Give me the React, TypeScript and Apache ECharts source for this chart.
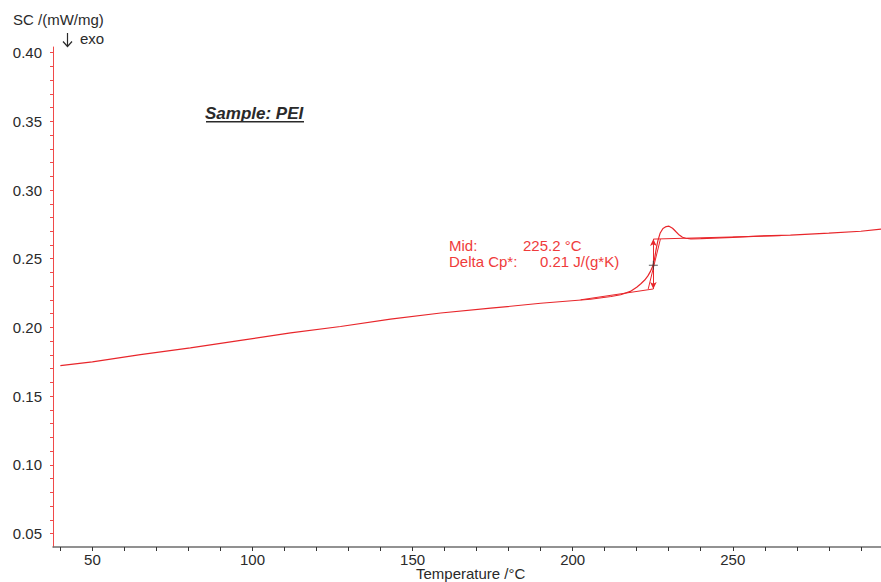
import React, { useEffect, useRef } from "react";
import * as echarts from "echarts";

// ---- data ----
const temps = [
  40, 50, 65, 80.6, 96.3, 111.9, 127.5, 143.1, 158.8, 174.4, 190, 205.6, 212, 215, 218,
  220, 221.3, 222.5, 223.5, 224.3, 225.0, 225.5, 226.0, 226.6, 227.3, 228.2, 229.2,
  230.1, 231.2, 232.2, 233.3, 234.3, 235.3, 236.9, 240, 250, 258, 268, 280, 290, 296.3,
];
const dsc = [
  0.1722, 0.175, 0.1802, 0.1851, 0.1906, 0.196, 0.2007, 0.206, 0.2105, 0.214, 0.2176,
  0.2205, 0.2225, 0.2238, 0.2262, 0.2293, 0.2318, 0.2345, 0.2375, 0.2408, 0.2445, 0.249,
  0.256, 0.263, 0.2685, 0.272, 0.2734, 0.2737, 0.2722, 0.2698, 0.2672, 0.2656, 0.2649,
  0.2645, 0.2646, 0.2656, 0.2665, 0.2672, 0.2686, 0.27, 0.2716,
];

const midTemp = 225.2;
const midValue = 0.2452;
const lowerBaseline = [
  [202.5, 0.2201],
  [225.2, 0.228],
];
const upperBaseline = [
  [225.2, 0.2643],
  [265, 0.2668],
];
const tangentLine = [
  [223.6, 0.228],
  [227.4, 0.2643],
];

const xLabelValues = [50, 100, 150, 200, 250];
const xTickValues = [40, 50, 60, 70, 80, 90, 100, 110, 120, 130, 140, 150, 160, 170, 180, 190, 200, 210, 220, 230, 240, 250, 260, 270, 280, 290];
const yLabelValues = [0.05, 0.1, 0.15, 0.2, 0.25, 0.3, 0.35, 0.4];
const yTickValues = [
  0.05, 0.06, 0.07, 0.08, 0.09, 0.1, 0.11, 0.12, 0.13, 0.14, 0.15, 0.16, 0.17, 0.18, 0.19,
  0.2, 0.21, 0.22, 0.23, 0.24, 0.25, 0.26, 0.27, 0.28, 0.29, 0.3, 0.31, 0.32, 0.33, 0.34,
  0.35, 0.36, 0.37, 0.38, 0.39, 0.4,
];

const FONT = "'Liberation Sans', Arial, sans-serif";
const RED = "#e8262b";
const TEXT_RED = "#ef3b3b";
const DARK = "#2a2a2a";

export default function App() {
  const ref = useRef<HTMLDivElement>(null);

  useEffect(() => {
    if (!ref.current) return;
    const chart = echarts.init(ref.current, undefined, { renderer: "svg" });
    const curve = temps.map((t, i) => [t, dsc[i]]);

    chart.setOption({
      animation: false,
      backgroundColor: "#ffffff",
      textStyle: { fontFamily: FONT },
      grid: { left: 53, right: 0, top: 47, bottom: 35, containLabel: false },
      xAxis: {
        type: "value",
        min: 37.7,
        max: 296.3,
        splitLine: { show: false },
        axisLine: { show: true, onZero: false, lineStyle: { color: "#6e6e6e", width: 1.5 } },
        axisTick: {
          show: true,
          customValues: xTickValues,
          length: 4,
          inside: false,
          lineStyle: { color: "#333333", width: 1 },
        },
        axisLabel: {
          customValues: xLabelValues,
          color: DARK,
          fontSize: 15,
          fontFamily: FONT,
          margin: 5,
        },
      },
      yAxis: {
        type: "value",
        min: 0.0402,
        max: 0.4041,
        splitLine: { show: false },
        axisLine: { show: true, onZero: false, lineStyle: { color: "#f04a4a", width: 1 } },
        axisTick: {
          show: true,
          customValues: yTickValues,
          length: 3,
          lineStyle: { color: "#f04a4a", width: 1 },
        },
        axisLabel: {
          customValues: yLabelValues,
          color: DARK,
          fontSize: 15,
          fontFamily: FONT,
          margin: 11,
          formatter: (v: number) => v.toFixed(2),
        },
      },
      series: [
        {
          type: "line",
          data: curve,
          showSymbol: false,
          lineStyle: { color: RED, width: 1.2 },
          z: 3,
        },
        {
          type: "line",
          data: lowerBaseline,
          showSymbol: false,
          lineStyle: { color: RED, width: 1 },
        },
        {
          type: "line",
          data: upperBaseline,
          showSymbol: false,
          lineStyle: { color: RED, width: 1 },
        },
        {
          type: "line",
          data: tangentLine,
          showSymbol: false,
          lineStyle: { color: RED, width: 1 },
          markLine: {
            silent: true,
            symbol: ["arrow", "arrow"],
            symbolSize: [5, 7],
            label: { show: false },
            lineStyle: { color: RED, width: 1, type: "solid" },
            data: [
              [
                { coord: [midTemp, lowerBaseline[1][1]] },
                { coord: [midTemp, upperBaseline[0][1]] },
              ],
            ],
          },
        },
        {
          type: "scatter",
          data: [[midTemp, midValue]],
          symbol: "path://M0 4.4h10v1.2H0zM4.4 0h1.2v10H4.4z",
          symbolSize: 9,
          itemStyle: { color: "#333333" },
          z: 5,
        },
      ],
      graphic: [
        {
          type: "text",
          left: 13,
          top: 12,
          style: { text: "SC /(mW/mg)", font: `15px ${FONT}`, fill: DARK },
        },
        {
          type: "line",
          shape: { x1: 67.5, y1: 33, x2: 67.5, y2: 46 },
          style: { stroke: DARK, lineWidth: 1.2 },
        },
        {
          type: "polyline",
          shape: { points: [[63, 41.5], [67.5, 46.5], [72, 41.5]] },
          style: { stroke: DARK, lineWidth: 1.2, fill: "none" },
        },
        {
          type: "text",
          left: 80,
          top: 31,
          style: { text: "exo", font: `15px ${FONT}`, fill: DARK },
        },
        {
          type: "text",
          left: 205,
          top: 105,
          style: { text: "Sample: PEI", font: `italic bold 17px ${FONT}`, fill: DARK },
        },
        {
          type: "rect",
          shape: { x: 206, y: 121, width: 98, height: 1.6 },
          style: { fill: DARK },
        },
        {
          type: "text",
          left: 449,
          top: 238,
          style: { text: "Mid:", font: `15px ${FONT}`, fill: TEXT_RED },
        },
        {
          type: "text",
          left: 523,
          top: 238,
          style: { text: "225.2 °C", font: `15px ${FONT}`, fill: TEXT_RED },
        },
        {
          type: "text",
          left: 449,
          top: 254,
          style: { text: "Delta Cp*:", font: `15px ${FONT}`, fill: TEXT_RED },
        },
        {
          type: "text",
          left: 540,
          top: 254,
          style: { text: "0.21 J/(g*K)", font: `15px ${FONT}`, fill: TEXT_RED },
        },
        {
          type: "text",
          left: 416,
          top: 566,
          style: { text: "Temperature /°C", font: `15px ${FONT}`, fill: DARK },
        },
      ],
    });

    return () => chart.dispose();
  }, []);

  return (
    <div
      ref={ref}
      style={{ position: "absolute", left: 0, top: 0, width: 881, height: 582, overflow: "hidden" }}
    />
  );
}
